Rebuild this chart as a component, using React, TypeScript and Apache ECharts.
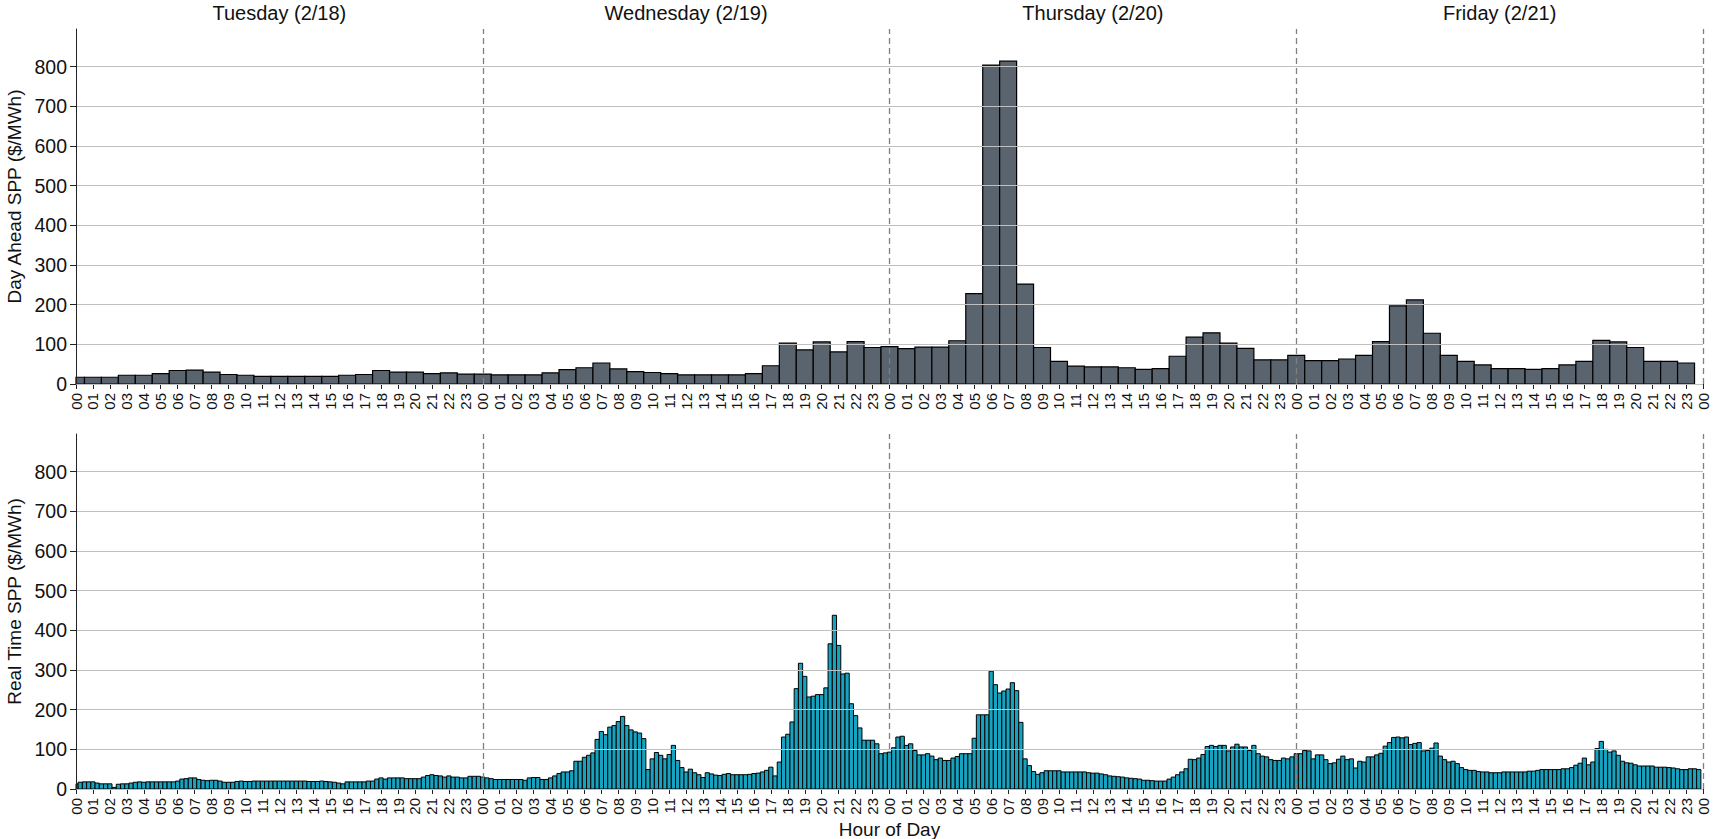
import React, { useEffect, useRef } from "react";
import * as echarts from "echarts";

// Day headers shown above the day-ahead panel
const dayNames = ["Tuesday (2/18)", "Wednesday (2/19)", "Thursday (2/20)", "Friday (2/21)"];
// Hour-of-day tick labels
const hourLabels = Array.from({ length: 24 }, (_, h) => String(h).padStart(2, "0"));
// Price ticks on both panels
const priceTicks = [0, 100, 200, 300, 400, 500, 600, 700, 800];

// Day-ahead settlement point prices, hourly ($/MWh)
const daTue = [17, 17, 17, 22, 22, 26, 34, 35, 30, 24, 22, 19, 19, 19, 19, 19, 22, 24, 34, 30, 30, 26, 28, 25];
const daWed = [25, 23, 23, 23, 28, 36, 41, 53, 38, 31, 29, 26, 23, 23, 23, 23, 26, 46, 103, 86, 106, 81, 107, 92];
const daThu = [94, 89, 93, 93, 109, 228, 804, 814, 252, 92, 57, 45, 43, 43, 41, 37, 39, 70, 118, 129, 103, 90, 61, 61];
const daFri = [72, 59, 59, 63, 72, 107, 197, 212, 128, 72, 57, 48, 39, 39, 37, 39, 48, 57, 110, 106, 92, 57, 57, 53];

// Real-time settlement point prices, 15-minute intervals ($/MWh)
const rtTue = [
  13, 17, 18, 18, 18, 15, 13, 13, 13, 4, 12, 13, 13, 15, 17, 18, 17, 18, 18, 18, 18, 18, 18, 18,
  20, 25, 26, 28, 28, 24, 22, 21, 22, 22, 20, 17, 17, 17, 19, 20, 19, 19, 20, 20, 20, 20, 20, 20,
  20, 20, 20, 20, 20, 20, 20, 19, 19, 19, 20, 19, 18, 17, 15, 13, 18, 18, 18, 18, 18, 20, 20, 25,
  28, 25, 28, 28, 28, 28, 26, 26, 26, 26, 30, 34, 36, 34, 33, 30, 33, 30, 30, 28, 28, 32, 32, 32,
];
const rtWed = [
  30, 28, 26, 24, 24, 24, 24, 24, 24, 24, 22, 28, 29, 29, 24, 24, 28, 33, 39, 43, 43, 46, 70, 70,
  80, 85, 91, 125, 145, 137, 156, 160, 170, 183, 160, 149, 144, 141, 127, 49, 76, 92, 85, 76, 87, 110, 72, 54,
  43, 50, 41, 36, 29, 41, 38, 35, 34, 37, 39, 36, 36, 36, 36, 37, 39, 40, 43, 47, 55, 33, 68, 131,
  138, 169, 253, 317, 284, 232, 234, 238, 238, 255, 366, 438, 362, 290, 292, 215, 185, 154, 123, 123, 123, 114, 89, 91,
];
const rtThu = [
  93, 104, 131, 133, 110, 114, 97, 86, 86, 89, 83, 74, 78, 72, 72, 78, 82, 89, 89, 89, 128, 187, 187, 187,
  297, 263, 242, 247, 252, 268, 248, 168, 76, 59, 44, 37, 41, 46, 46, 46, 46, 43, 43, 43, 43, 43, 43, 41,
  40, 40, 38, 36, 33, 32, 31, 30, 28, 27, 26, 25, 22, 22, 21, 20, 20, 20, 25, 30, 36, 43, 51, 75,
  74, 78, 87, 107, 110, 107, 110, 110, 96, 106, 113, 106, 106, 97, 110, 89, 83, 81, 74, 72, 72, 78, 76, 81,
];
const rtFri = [
  89, 89, 97, 96, 76, 86, 86, 74, 64, 66, 75, 83, 74, 76, 53, 70, 68, 81, 81, 86, 90, 108, 117, 130,
  131, 129, 131, 112, 115, 117, 96, 97, 103, 116, 83, 74, 68, 70, 64, 54, 49, 47, 47, 44, 43, 43, 41, 41,
  41, 43, 43, 43, 43, 43, 43, 45, 45, 47, 49, 49, 49, 49, 49, 51, 51, 54, 60, 65, 78, 61, 68, 102,
  120, 100, 93, 96, 85, 70, 66, 65, 61, 58, 58, 58, 58, 55, 55, 55, 54, 53, 51, 49, 49, 51, 51, 49,
];

const HOURS = 24;
const TOTAL_HOURS = HOURS * dayNames.length;
const DA_FILL = "#59646e";
const RT_FILL = "#17a3bf";
const FONT = "'Liberation Sans', Arial, sans-serif";
const TEXT = "#111111";

// Turn per-day arrays into [hourOffset, price] points
function toPoints(days: number[][], perHour: number): number[][] {
  const pts: number[][] = [];
  days.forEach((vals, d) => {
    vals.forEach((v, i) => pts.push([d * HOURS + i / perHour, v]));
  });
  return pts;
}

// Bars centred on their timestamp, clipped to the plot area
function barRenderer(width: number, fill: string, lineWidth: number) {
  return (params: any, api: any) => {
    const x = api.value(0);
    const v = api.value(1);
    const a = api.coord([x - width / 2, 0]);
    const b = api.coord([x + width / 2, v]);
    const cs = params.coordSys;
    const shape = echarts.graphic.clipRectByRect(
      { x: a[0], y: b[1], width: b[0] - a[0], height: a[1] - b[1] },
      { x: cs.x, y: cs.y, width: cs.width, height: cs.height }
    );
    if (!shape) return null;
    return {
      type: "rect",
      shape,
      style: { fill, stroke: "#000000", lineWidth },
    };
  };
}

const dayBoundaries = {
  silent: true,
  symbol: "none",
  label: { show: false },
  lineStyle: { color: "#808080", type: [6, 4], width: 1.3 },
  data: [{ xAxis: 24 }, { xAxis: 48 }, { xAxis: 72 }, { xAxis: 96 }],
};

function hourAxis(gridIndex: number, extra: any = {}) {
  return {
    type: "value",
    gridIndex,
    min: 0,
    max: TOTAL_HOURS,
    interval: 1,
    axisLine: { show: true, onZero: false, lineStyle: { color: "#222", width: 1 } },
    axisTick: { show: true, length: 5, lineStyle: { color: "#222" } },
    axisLabel: {
      rotate: 90,
      margin: 9,
      fontSize: 15,
      fontFamily: FONT,
      color: TEXT,
      formatter: (v: number) => hourLabels[Math.round(v) % HOURS],
    },
    splitLine: { show: false },
    ...extra,
  };
}

function priceAxis(gridIndex: number, name: string) {
  return {
    type: "value",
    gridIndex,
    min: 0,
    max: 895,
    interval: 100,
    z: 5,
    name,
    nameLocation: "middle",
    nameGap: 42,
    nameRotate: 90,
    nameTextStyle: { fontSize: 19, fontFamily: FONT, color: TEXT, padding: [0, 0, 0, 20] },
    axisLine: { show: true, lineStyle: { color: "#222", width: 1 } },
    axisTick: { show: true, length: 6, customValues: priceTicks, lineStyle: { color: "#222" } },
    axisLabel: {
      fontSize: 19.5,
      fontFamily: FONT,
      color: TEXT,
      margin: 9,
      customValues: priceTicks,
    },
    splitLine: { show: true, lineStyle: { color: "#c0c0c0", width: 1 } },
  };
}

export default function App() {
  const ref = useRef<HTMLDivElement>(null);

  useEffect(() => {
    if (!ref.current) return;
    const chart = echarts.init(ref.current, null, { renderer: "svg" });
    const daPoints = toPoints([daTue, daWed, daThu, daFri], 1);
    const rtPoints = toPoints([rtTue, rtWed, rtThu, rtFri], 4);

    chart.setOption({
      animation: false,
      backgroundColor: "#ffffff",
      textStyle: { fontFamily: FONT },
      grid: [
        { left: 76, top: 29, width: 1627, height: 355, containLabel: false, outerBoundsMode: "none" },
        { left: 76, top: 434, width: 1627, height: 355, containLabel: false, outerBoundsMode: "none" },
      ],
      xAxis: [
        hourAxis(0),
        {
          type: "category",
          gridIndex: 0,
          position: "top",
          data: dayNames,
          axisLine: { show: false },
          axisTick: { show: false },
          axisLabel: { fontSize: 20, fontFamily: FONT, color: TEXT, margin: 6 },
          splitLine: { show: false },
        },
        hourAxis(1, {
          name: "Hour of Day",
          nameLocation: "middle",
          nameGap: 31,
          nameTextStyle: { fontSize: 19, fontFamily: FONT, color: TEXT, padding: 0 },
        }),
      ],
      yAxis: [
        priceAxis(0, "Day Ahead SPP ($/MWh)"),
        priceAxis(1, "Real Time SPP ($/MWh)"),
      ],
      series: [
        {
          type: "custom",
          name: "Day Ahead",
          xAxisIndex: 0,
          yAxisIndex: 0,
          data: daPoints,
          encode: { x: 0, y: 1 },
          renderItem: barRenderer(1, DA_FILL, 1.2),
          markLine: dayBoundaries,
        },
        {
          type: "custom",
          name: "Real Time",
          xAxisIndex: 2,
          yAxisIndex: 1,
          data: rtPoints,
          encode: { x: 0, y: 1 },
          renderItem: barRenderer(0.25, RT_FILL, 1),
          markLine: dayBoundaries,
        },
      ],
    });

    return () => chart.dispose();
  }, []);

  return (
    <div
      ref={ref}
      style={{ position: "absolute", left: 0, top: 0, width: 1719, height: 839, background: "#fff" }}
    />
  );
}
